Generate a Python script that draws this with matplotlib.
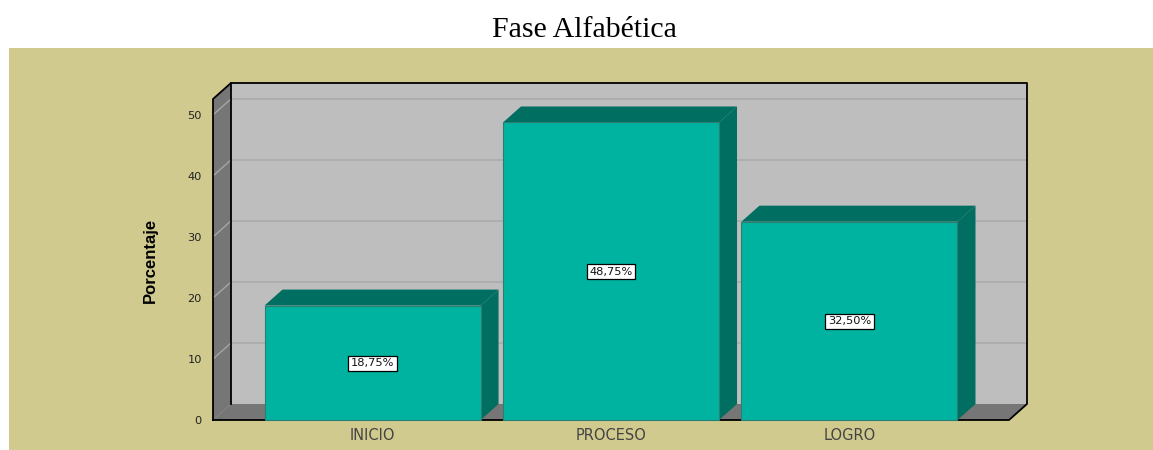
import matplotlib
matplotlib.use('Agg')
import matplotlib.pyplot as plt
from matplotlib.patches import Polygon, Rectangle

categories = ['INICIO', 'PROCESO', 'LOGRO']
values = [18.75, 48.75, 32.50]
value_labels = ['18,75%', '48,75%', '32,50%']
y_ticks = [0, 10, 20, 30, 40, 50]

W, H = 1153, 450
TEAL = '#00B3A0'
TEAL_DARK = '#006E60'
WALL = '#BEBEBE'
SIDE = '#767676'
KHAKI = '#D0CA8E'

fig = plt.figure(figsize=(W / 100, H / 100), dpi=100, facecolor='white')

# khaki panel behind the chart
fig.patches.append(Rectangle((9 / W, 0), (W - 9) / W, (H - 48) / H, transform=fig.transFigure,
                             facecolor=KHAKI, edgecolor='none', zorder=-5))

# front plane of the 3d box
ax = fig.add_axes([213 / W, (H - 420) / H, (1009 - 213) / W, (420 - 99) / H])
ax.patch.set_visible(False)
ax.set_xlim(-0.669, 2.669)
ax.set_ylim(0, 52.6)
x0, x1 = ax.get_xlim()
y1 = ax.get_ylim()[1]
for s in ax.spines.values():
    s.set_visible(False)

# depth of the box in data units
dx = 18 / 238.5
dy = 16 / 6.1


def poly(pts, **kw):
    ax.add_patch(Polygon(pts, closed=True, clip_on=False, **kw))


# back wall, left wall, floor
poly([(x0 + dx, dy), (x1 + dx, dy), (x1 + dx, y1 + dy), (x0 + dx, y1 + dy)], facecolor=WALL, edgecolor='none', zorder=1)
poly([(x0, 0), (x0 + dx, dy), (x0 + dx, y1 + dy), (x0, y1)], facecolor=SIDE, edgecolor='none', zorder=1)
poly([(x0, 0), (x1, 0), (x1 + dx, dy), (x0 + dx, dy)], facecolor=SIDE, edgecolor='none', zorder=1)

# grid lines on the walls
for t in y_ticks[1:]:
    ax.plot([x0 + dx, x1 + dx], [t + dy, t + dy], color='#ABABAB', lw=1.2, zorder=2, clip_on=False)
    ax.plot([x0, x0 + dx], [t, t + dy], color='#A6A6A6', lw=1.0, zorder=2, clip_on=False)

# box outline
ax.plot([x0, x0, x0 + dx, x1 + dx, x1 + dx, x1, x0], [0, y1, y1 + dy, y1 + dy, dy, 0, 0],
        color='black', lw=1.3, zorder=3, clip_on=False)
ax.plot([x0 + dx, x0 + dx], [dy, y1 + dy], color='black', lw=1.3, zorder=3, clip_on=False)

# bars
xpos = list(range(len(categories)))
w = 0.906
for x, v in zip(xpos, values):
    l, r = x - w / 2, x + w / 2
    poly([(l, v), (r, v), (r + dx, v + dy), (l + dx, v + dy)], facecolor=TEAL_DARK, edgecolor='none', zorder=4)
    poly([(r, 0), (r + dx, dy), (r + dx, v + dy), (r, v)], facecolor=TEAL_DARK, edgecolor='none', zorder=4)
ax.bar(xpos, values, width=w, color=TEAL, edgecolor='#2A7F72', linewidth=0.8, zorder=5, clip_on=False)

for x, v, lab in zip(xpos, values, value_labels):
    ax.text(x, v / 2 - 0.1, lab, ha='center', va='center', fontsize=8.2, family='DejaVu Sans', color='#111111', zorder=6,
            bbox=dict(boxstyle='square,pad=0.22', facecolor='white', edgecolor='black', linewidth=0.9))

ax.set_xticks(xpos)
ax.set_xticklabels(categories, fontsize=10.5, family='DejaVu Sans', color='#444444')
ax.set_yticks(y_ticks)
ax.set_yticklabels([str(t) for t in y_ticks], fontsize=8.2, family='DejaVu Sans', color='#222222')
ax.tick_params(axis='x', length=0, pad=6)
ax.tick_params(axis='y', length=0, pad=8)

ax.set_ylabel('Porcentaje', fontsize=12, fontweight='bold', family=['Liberation Sans Narrow', 'Liberation Sans'],
              color='black', labelpad=0)
ax.yaxis.set_label_coords((158 - 213) / (1009 - 213), (420 - 260) / (420 - 99))

fig.text(584 / W, (H - 30) / H, 'Fase Alfabética', ha='center', va='center', fontsize=21.5,
         family='Liberation Serif', color='black')

fig.savefig('out.png', dpi=100)
